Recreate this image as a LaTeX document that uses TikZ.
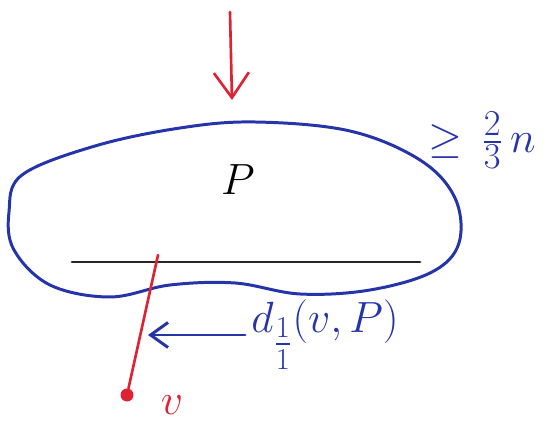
\documentclass[tikz,border=0pt]{standalone}
\usepackage{amsmath,amssymb}
\usetikzlibrary{arrows.meta,positioning}
\definecolor{PenBlue}{RGB}{38,52,170}
\definecolor{PenRed}{RGB}{222,34,52}
\tikzset{
  blueline/.style={draw=PenBlue,line width=1.7pt,line cap=round,line join=round},
  redline/.style={draw=PenRed,line width=1.5pt,line cap=round},
  cutline/.style={draw=black!85,line width=1.6pt,line cap=round},
  redarrow/.style={redline,-{Straight Barb[length=5mm,width=7mm,line width=1.5pt]}},
  bluearrow/.style={blueline,-{Straight Barb[length=3.5mm,width=5mm,line width=1.7pt]}},
  vertex/.style={circle,fill=PenRed,inner sep=0pt,minimum size=2.6mm},
  bigtext/.style={inner sep=0pt,font=\fontsize{32}{32}\selectfont},
  bluetext/.style={inner sep=0pt,text=PenBlue,font=\fontsize{33}{33}\selectfont},
  redtext/.style={inner sep=0pt,text=PenRed,font=\fontsize{32}{32}\selectfont}
}
\begin{document}
\begin{tikzpicture}[x=0.02cm,y=-0.02cm]
\useasboundingbox (0,0) rectangle (552,438);
% the blob
\draw[blueline] plot[smooth cycle,tension=0.6] coordinates {(22,175) (95,146) (180,128) (255,122) (350,131) (420,160) (455,198) (459,243) (432,272) (370,290) (300,294) (235,283) (170,285) (110,297) (50,285) (14,250) (9,212)};
\node[bigtext] (P) at (238,180) {$P$};
\node[bluetext,font=\fontsize{28}{28}\selectfont] (bound) at (482,140) {$\geq\,\frac{2}{3}\,n$};
% cut
\coordinate (cutL) at (72,262);
\coordinate (cutR) at (420,262);
\draw[cutline] (cutL) -- (cutR);
% incoming arrow
\coordinate (inTop) at (230,12);
\coordinate (inTip) at (232,100);
\draw[redarrow] (inTop) -- (inTip);
% vertex v
\node[vertex] (v) at (127,395) {};
\coordinate (hit) at (158,255);
\draw[redline] (v) -- (hit);
\node[redtext] (vlab) at (172,405) {$v$};
% distance
\node[bluetext] (dist) at (325,335) {$d_{\frac{1}{1}}(v,P)$};
\coordinate (distTip) at (148,335);
\draw[bluearrow] (dist.west) ++(-6,0) -- (distTip);
\end{tikzpicture}
\end{document}
